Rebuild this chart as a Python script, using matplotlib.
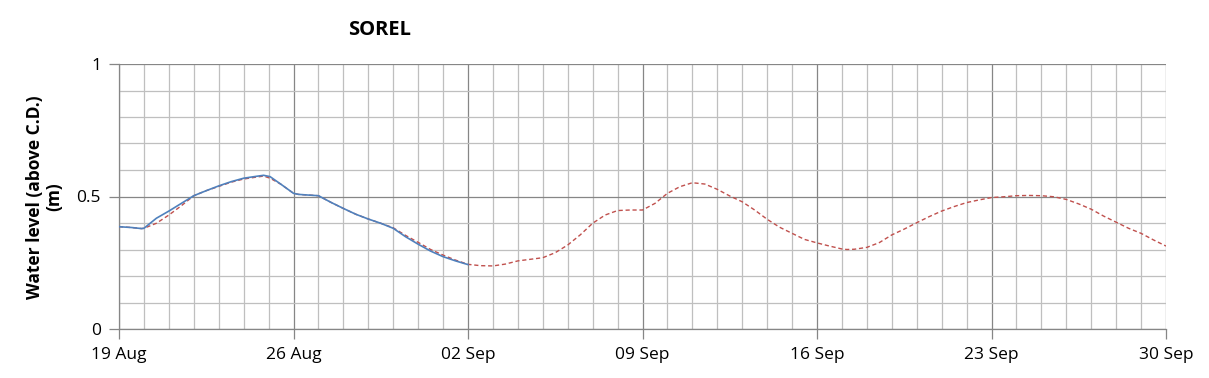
import matplotlib
matplotlib.use("Agg")
import matplotlib.pyplot as plt
import matplotlib.dates as mdates
import numpy as np
import pandas as pd

# day offsets from 19 Aug and water levels (m above C.D.)
start = pd.Timestamp("2013-08-19")
end = pd.Timestamp("2013-09-30")

obs_days = [0, 0.5, 0.9, 1, 1.5, 2, 2.5, 3, 3.5, 4, 4.5, 5, 5.5, 5.8, 6.06, 6.5, 7, 7.2,
            7.5, 8, 8.5, 9, 9.5, 10, 10.5, 11, 11.5, 12, 12.5, 13, 13.5, 14]
obs_level = [0.386, 0.383, 0.379, 0.380, 0.418, 0.445, 0.474, 0.503, 0.522, 0.540,
             0.556, 0.569, 0.576, 0.580, 0.575, 0.546, 0.512, 0.508, 0.506, 0.503,
             0.478, 0.455, 0.433, 0.415, 0.399, 0.380, 0.348, 0.320, 0.294, 0.273,
             0.257, 0.243]

pred_days = [0, 0.5, 0.9, 1, 1.5, 2, 2.5, 3, 3.5, 4, 4.5, 5, 5.5, 5.8, 6.06, 6.5, 7,
             7.2, 7.5, 8, 8.5, 9, 9.5, 10, 10.5, 11, 11.5, 12, 12.5, 13, 13.5, 14,
             14.5, 15, 15.5, 16, 16.5, 17, 17.5, 18, 18.5, 19, 19.5, 20, 20.5, 21,
             21.5, 22, 22.5, 23, 23.5, 24, 24.5, 25, 25.5, 26, 26.5, 27, 27.5, 28,
             28.5, 29, 29.2, 29.5, 30, 30.5, 31, 31.5, 32, 32.5, 33, 33.5, 34, 34.5,
             35, 35.5, 36, 36.5, 37, 37.5, 38, 38.5, 39, 39.5, 40, 40.5, 41, 41.5, 42]
pred_level = [0.386, 0.383, 0.379, 0.380, 0.399, 0.430, 0.465, 0.503, 0.522, 0.538,
              0.554, 0.566, 0.573, 0.577, 0.569, 0.546, 0.512, 0.508, 0.506, 0.503,
              0.478, 0.455, 0.433, 0.415, 0.399, 0.382, 0.353, 0.327, 0.300, 0.279,
              0.260, 0.244, 0.239, 0.238, 0.245, 0.257, 0.263, 0.269, 0.288, 0.317,
              0.355, 0.399, 0.430, 0.447, 0.449, 0.449, 0.474, 0.512, 0.537, 0.552,
              0.547, 0.527, 0.502, 0.480, 0.449, 0.414, 0.384, 0.361, 0.338, 0.325,
              0.313, 0.302, 0.300, 0.301, 0.308, 0.326, 0.355, 0.377, 0.401, 0.424,
              0.445, 0.462, 0.477, 0.487, 0.496, 0.499, 0.503, 0.504, 0.503, 0.499,
              0.489, 0.472, 0.452, 0.426, 0.403, 0.380, 0.361, 0.336, 0.313]

obs_x = [start + pd.Timedelta(days=d) for d in obs_days]
pred_x = [start + pd.Timedelta(days=d) for d in pred_days]

fig = plt.figure(figsize=(12.09, 3.78), dpi=100)
ax = fig.add_axes([119 / 1209, 1 - 329 / 378, 1047 / 1209, 265 / 378])

ax.plot(pred_x, pred_level, color="#C0504D", lw=1.0, linestyle=(0, (3, 2)), zorder=3)
ax.plot(obs_x, obs_level, color="#4F81BD", lw=1.2, zorder=4)

ax.set_xlim(start, end)
ax.set_ylim(0, 1)

major_dates = pd.date_range(start, end, freq="7D")
ax.set_xticks(major_dates)
ax.xaxis.set_major_formatter(mdates.DateFormatter("%d %b"))
ax.xaxis.set_minor_locator(mdates.DayLocator())
ax.set_yticks([0, 0.5, 1])
ax.set_yticklabels(["0", "0.5", "1"])
ax.set_yticks(np.arange(0, 1.01, 0.1), minor=True)

ax.grid(which="minor", color="#BFBFBF", lw=0.9)
ax.grid(which="major", color="#868686", lw=0.9)
ax.set_axisbelow(True)

ax.tick_params(which="major", direction="out", length=7, width=0.9, color="#868686",
               labelsize=12.5, pad=6)
ax.tick_params(which="minor", length=0)
for lab in ax.get_xticklabels() + ax.get_yticklabels():
    lab.set_family("Open Sans")

for s in ["top", "right"]:
    ax.spines[s].set_visible(False)
for s in ["left", "bottom"]:
    ax.spines[s].set_color("#868686")
    ax.spines[s].set_linewidth(0.9)

fig.text(45 / 1209, 1 - 197 / 378, "Water level (above C.D.)\n(m)", rotation=90,
         ha="center", va="center", fontsize=12.5, fontweight="bold",
         family="Open Sans", linespacing=1.1)
fig.text(380 / 1209, 1 - 30 / 378, "SOREL", ha="center", va="center",
         fontsize=14.5, fontweight="bold", family="Open Sans")

fig.savefig("out.png", dpi=100)
